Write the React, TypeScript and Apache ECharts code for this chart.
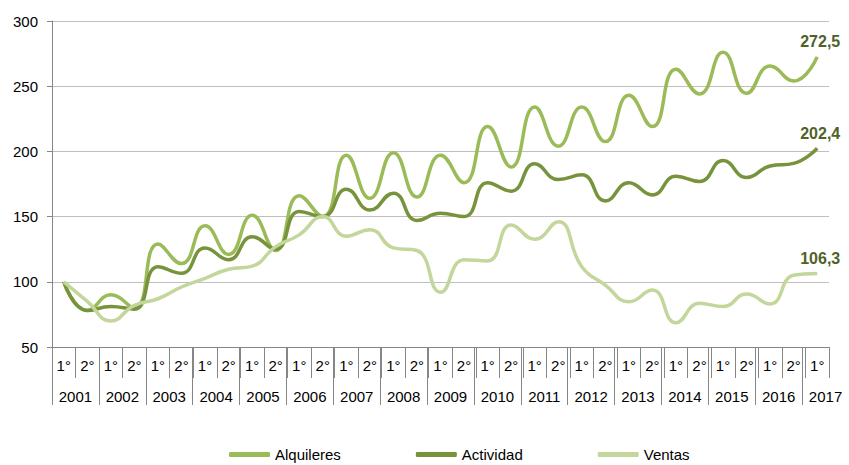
import React, { useEffect, useRef } from "react";
import * as echarts from "echarts";

const halves = [
  "1°","2°","1°","2°","1°","2°","1°","2°","1°","2°","1°","2°","1°","2°","1°","2°",
  "1°","2°","1°","2°","1°","2°","1°","2°","1°","2°","1°","2°","1°","2°","1°","2°","1°",
];
const years = ["2001","2002","2003","2004","2005","2006","2007","2008","2009","2010","2011","2012","2013","2014","2015","2016","2017"];

const alquileres = [100, 78, 90, 80, 129, 114, 143, 121, 151, 124, 166, 150, 197, 164, 199, 165, 197, 176, 219, 188, 234, 204, 234, 207.5, 243, 219, 263, 244, 276, 244.5, 265.5, 254, 272.5];
const actividad = [100, 78, 81, 79, 111.6, 106.5, 126, 117, 134.6, 125, 154, 150, 171, 155, 168, 147, 152.5, 150, 176, 169.5, 190.5, 178.5, 182, 162, 176, 166.6, 181, 177, 193, 180, 188.8, 190.8, 202.4];
const ventas = [100, 85, 70, 82, 87, 96, 102.7, 109.6, 112, 127, 136, 150, 135, 140, 126, 124, 92, 117, 116, 143.6, 132.6, 146, 111.6, 97.5, 84.7, 93.7, 68.6, 83.5, 81, 90.6, 83, 105, 106.3];

const FONT = "Liberation Sans, Arial, sans-serif";
const AXIS = "#868686";

function withEndLabel(arr: number[]) {
  return arr.map((v, i) =>
    i === arr.length - 1
      ? {
          value: v,
          label: {
            show: true,
            position: "top",
            distance: 7,
            offset: [3, 0],
            fontFamily: FONT,
            fontSize: 16,
            fontWeight: "bold",
            color: "#4F6228",
            formatter: () => v.toFixed(1).replace(".", ","),
          },
        }
      : v
  );
}

export default function App() {
  const ref = useRef<HTMLDivElement>(null);
  useEffect(() => {
    if (!ref.current) return;
    const chart = echarts.init(ref.current, null, { renderer: "svg" });
    const mk = (name: string, data: number[], color: string) => ({
      name,
      type: "line",
      data: withEndLabel(data),
      smooth: 0.5,
      showSymbol: true,
      symbol: "circle",
      symbolSize: 0.01,
      label: { show: false },
      lineStyle: { color, width: 3.5 },
      itemStyle: { color },
      xAxisIndex: 0,
      yAxisIndex: 0,
    });
    chart.setOption({
      animation: false,
      textStyle: { fontFamily: FONT },
      grid: [
        { left: 52, right: 20, top: 21, bottom: 118 },
        { left: 52, width: 800.6, top: 21, bottom: 118 },
      ],
      legend: {
        left: 224,
        top: 442,
        itemGap: 75,
        itemWidth: 41,
        itemHeight: 5,
        icon: "roundRect",
        textStyle: { fontFamily: FONT, fontSize: 15, color: "#000" },
        data: ["Alquileres", "Actividad", "Ventas"],
      },
      xAxis: [
        {
          type: "category",
          gridIndex: 0,
          data: halves,
          boundaryGap: true,
          axisLine: { show: true, lineStyle: { color: AXIS, width: 1 } },
          axisTick: { show: true, interval: 0, length: 31, lineStyle: { color: AXIS } },
          axisLabel: { interval: 0, margin: 11, fontSize: 15, color: "#000", fontFamily: FONT },
          splitLine: { show: false },
        },
        {
          type: "category",
          gridIndex: 1,
          data: years,
          boundaryGap: true,
          axisLine: { show: false },
          axisTick: { show: true, interval: 0, length: 58, lineStyle: { color: AXIS } },
          axisLabel: { interval: 0, margin: 42, fontSize: 15, color: "#000", fontFamily: FONT },
          splitLine: { show: false },
        },
      ],
      yAxis: [
        {
          type: "value",
          gridIndex: 0,
          min: 50,
          max: 300,
          interval: 50,
          axisLine: { show: true, lineStyle: { color: AXIS } },
          axisTick: { show: true, length: 5, lineStyle: { color: AXIS } },
          axisLabel: { margin: 14, fontSize: 15, color: "#000", fontFamily: FONT },
          splitLine: { show: true, lineStyle: { color: "#BFBFBF", width: 1 } },
        },
        { type: "value", gridIndex: 1, show: false, min: 0, max: 1 },
      ],
      series: [
        mk("Alquileres", alquileres, "#9BBB59"),
        mk("Actividad", actividad, "#77933C"),
        mk("Ventas", ventas, "#C3D69B"),
      ],
    });
    return () => chart.dispose();
  }, []);
  return (
    <div
      ref={ref}
      style={{ position: "absolute", left: 0, top: 0, width: 849, height: 465 }}
    />
  );
}
